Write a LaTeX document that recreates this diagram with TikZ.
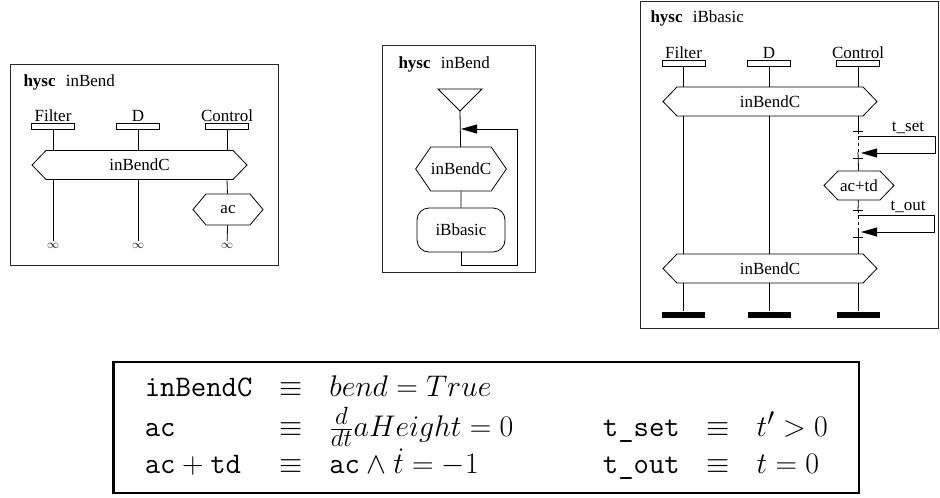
\documentclass[tikz,border=0pt]{standalone}
\usepackage{fontspec}
\setmainfont{Liberation Serif}
\usetikzlibrary{shapes.symbols}
\usetikzlibrary{positioning, calc, shapes.geometric, arrows.meta}

\begin{document}
\begin{tikzpicture}[x=1pt, y=-1pt,
            every node/.style={font=\fontsize{17}{20}\selectfont},
            frame/.style={draw=black!85, line width=0.9pt},
            wire/.style={draw, line width=0.8pt},
            port/.style={rectangle, draw, line width=0.8pt, minimum width=43pt, minimum height=6pt, inner sep=0pt},
            sink/.style={rectangle, fill=black, minimum width=43pt, minimum height=6pt, inner sep=0pt},
            mode/.style={signal, signal to=west and east, signal pointer angle=92, draw, line width=0.8pt, inner sep=0pt},
            block/.style={rectangle, rounded corners=12pt, draw, line width=0.8pt, minimum width=88pt, minimum height=44pt},
            endless/.style={font=\fontsize{13}{15}\selectfont, inner sep=2pt},
            % 点線の区間
            gap/.style={draw, line width=0.8pt, dash pattern=on 3pt off 3pt},
            jump/.style={draw, line width=0.8pt, -{Triangle[length=16pt, width=9pt]}}
        ]
            \useasboundingbox (0,0) rectangle (940,498);

            % --- 左の図 ---
            \draw[frame] (10,64) rectangle (278,265);
            \node[anchor=base west] (lttl) at (20,86) {\textbf{hysc}\hspace{0.6em}inBend};

            \node[port] (lf) at (53,126) {};
            \node[port] (ld) at (138,126) {};
            \node[port] (lc) at (227,126) {};
            \node[anchor=base] (lfl) at (53,121) {Filter};
            \node[anchor=base] (ldl) at (138,121) {D};
            \node[anchor=base] (lcl) at (227,121) {Control};

            \node[mode, minimum width=215pt, minimum height=29pt] (lhx) at (139.5,165) {inBendC};
            \node[mode, signal pointer angle=100, minimum width=70pt, minimum height=31pt] (lac) at (228,209.5) {ac};

            \node[endless] (lfi) at (53,246) {$\infty$};
            \node[endless] (ldi) at (138,246) {$\infty$};
            \node[endless] (lci) at (227,246) {$\infty$};

            \draw[wire] (lf) -- (lf |- lhx.north);
            \draw[wire] (ld) -- (ld |- lhx.north);
            \draw[wire] (lc) -- (lc |- lhx.north);
            \draw[wire] (lf |- lhx.south) -- (lfi);
            \draw[wire] (ld |- lhx.south) -- (ldi);
            \draw[wire] (lc |- lhx.south) -- (lac);
            \draw[wire] (lac) -- (lci);

            % --- 中央の図 ---
            \draw[frame] (382,45) rectangle (535,272);
            \node[anchor=base west] (mttl) at (395,68) {\textbf{hysc}\hspace{0.6em}inBend};

            \draw[wire] (438,89) -- (482,89) -- (460,111) -- cycle;
            \coordinate (mtip) at (460,111);
            \coordinate (mjoin) at (461,129);
            \coordinate (mret) at (517,265);

            \node[mode, signal pointer angle=111, minimum width=88pt, minimum height=44pt] (mhx) at (461,169) {inBendC};
            \node[block] (mblk) at (461,230) {iBbasic};

            \draw[wire] (mtip) -- (mhx);
            \draw[wire] (mhx) -- (mblk);
            \draw[jump] (mblk.south) |- (mret) |- (mjoin);

            % --- 右の図 ---
            \draw[frame] (640,1) rectangle (938,328);
            \node[anchor=base west] (rttl) at (647,22) {\textbf{hysc}\hspace{0.6em}iBbasic};

            \node[port] (rf) at (683.5,63.5) {};
            \node[port] (rd) at (769,63.5) {};
            \node[port] (rc) at (858,63.5) {};
            \node[anchor=base] (rfl) at (683.5,58) {Filter};
            \node[anchor=base] (rdl) at (769,58) {D};
            \node[anchor=base] (rcl) at (858,58) {Control};

            \node[mode, minimum width=214pt, minimum height=29pt] (rhx1) at (770,101.5) {inBendC};
            \node[mode, minimum width=70pt, minimum height=29pt] (racd) at (859,185.5) {ac+td};
            \node[mode, minimum width=214pt, minimum height=29pt] (rhx2) at (770,268.5) {inBendC};

            \node[sink] (rfs) at (683.5,314.5) {};
            \node[sink] (rds) at (769,314.5) {};
            \node[sink] (rcs) at (858,314.5) {};

            \draw[wire] (rf) -- (rf |- rhx1.north);
            \draw[wire] (rd) -- (rd |- rhx1.north);
            \draw[wire] (rc) -- (rc |- rhx1.north);
            \draw[wire] (rf |- rhx1.south) -- (rf |- rhx2.north);
            \draw[wire] (rd |- rhx1.south) -- (rd |- rhx2.north);
            \draw[wire] (rf |- rhx2.south) -- (rfs);
            \draw[wire] (rd |- rhx2.south) -- (rds);
            \draw[wire] (rc |- rhx2.south) -- (rcs);

            % t_set の区間
            \coordinate (sa) at (858,131);
            \coordinate (sb) at (858,152);
            \coordinate (sc) at (858,158);
            \draw[wire] (rc |- rhx1.south) -- (sa);
            \draw[wire] ($(sa)+(-5,0)$) -- ($(sa)+(5,0)$);
            \draw[gap] (sa) -- (sb);
            \draw[wire] (sb) -- (racd);
            \draw[wire] ($(sc)+(-5,0)$) -- ($(sc)+(5,0)$);
            \coordinate (sout) at (858,136);
            \coordinate (sturn) at (935,153);
            \coordinate (sin) at (861,153);
            \draw[jump] (sout) -| (sturn) -- (sin);
            \node[anchor=base] (sttl) at (908,131) {t\_set};

            % t_out の区間
            \coordinate (oa) at (858,210);
            \coordinate (ob) at (858,231);
            \coordinate (oc) at (858,237);
            \draw[wire] (racd) -- (oa);
            \draw[wire] ($(oa)+(-5,0)$) -- ($(oa)+(5,0)$);
            \draw[gap] (oa) -- (ob);
            \draw[wire] (ob) -- (rc |- rhx2.north);
            \draw[wire] ($(oc)+(-5,0)$) -- ($(oc)+(5,0)$);
            \coordinate (oout) at (858,215);
            \coordinate (oturn) at (934,232);
            \coordinate (oin) at (861,232);
            \draw[jump] (oout) -| (oturn) -- (oin);
            \node[anchor=base] (ottl) at (908,210) {t\_out};

            % --- 定義 ---
            \node[draw, line width=2.6pt, anchor=west, scale=1.2, transform shape, inner xsep=26pt, inner ysep=0pt, minimum height=109pt, font=\fontsize{24.88}{31.25}\selectfont] (defs) at (112,427.5) {%
                \begin{tabular}{@{}l@{\hspace{0.9em}}c@{\hspace{0.9em}}l@{\hspace{3em}}l@{\hspace{0.9em}}c@{\hspace{0.9em}}l@{}}
                \texttt{inBendC} & $\equiv$ & $bend = True$ & & & \\
                \texttt{ac} & $\equiv$ & $\frac{d}{dt}aHeight = 0$ & \texttt{t\_set} & $\equiv$ & $t' > 0$ \\
                $\mathtt{ac}+\mathtt{td}$ & $\equiv$ & $\mathtt{ac}\wedge\dot{t} = -1$ & \texttt{t\_out} & $\equiv$ & $t = 0$
                \end{tabular}};
        \end{tikzpicture}
\end{document}
